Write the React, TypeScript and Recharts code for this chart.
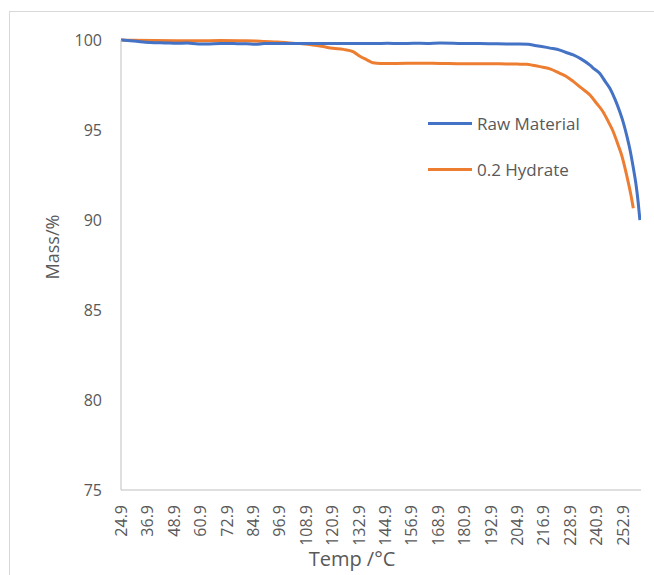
import React from "react";
import { LineChart, Line, XAxis, YAxis, Legend } from "recharts";

// tick labels
const tempTicks = [
  24.9, 36.9, 48.9, 60.9, 72.9, 84.9, 96.9, 108.9, 120.9, 132.9, 144.9, 156.9,
  168.9, 180.9, 192.9, 204.9, 216.9, 228.9, 240.9, 252.9,
];
const massTicks = [75, 80, 85, 90, 95, 100];
const seriesNames = ["Raw Material", "0.2 Hydrate"];

// Raw Material
const rawTemp = [
  24.9, 28, 32, 36, 40, 45, 50, 55, 60, 64, 70, 76, 82, 86, 90, 96, 102, 110,
  120, 130, 140, 146, 152, 158, 164, 170, 176, 182, 188, 194, 200, 206, 210,
  213, 215.4, 220, 224.4, 227, 230.5, 234, 238.1, 240, 242.5, 245, 247.2,
  249.5, 251.7, 253.3, 254.8, 256.3, 257.8, 259, 260, 260.8,
];
const rawMass = [
  100, 99.97, 99.93, 99.88, 99.85, 99.84, 99.82, 99.83, 99.78, 99.78, 99.81,
  99.8, 99.79, 99.76, 99.8, 99.81, 99.8, 99.8, 99.8, 99.8, 99.8, 99.82, 99.8,
  99.82, 99.81, 99.83, 99.82, 99.8, 99.8, 99.79, 99.78, 99.78, 99.76, 99.7,
  99.65, 99.55, 99.44, 99.32, 99.17, 98.95, 98.6, 98.4, 98.15, 97.7, 97.3,
  96.7, 96.0, 95.4, 94.7, 93.9, 92.9, 92.0, 91.0, 90.0,
];

// 0.2 Hydrate
const hydrateTemp = [
  24.9, 30, 40, 50, 60, 70, 80, 86, 90, 96, 103, 106.3, 112, 116, 121.3, 126,
  130.4, 133.5, 136.7, 139.4, 143, 150, 160, 170, 180, 190, 200, 205, 209.4,
  212, 215.4, 219.9, 224.4, 227, 230.5, 234, 238.1, 241, 244.1, 246.5, 248.7,
  250.5, 252.5, 254, 255.5, 256.7, 257.8,
];
const hydrateMass = [
  100, 99.98, 99.97, 99.96, 99.96, 99.97, 99.96, 99.95, 99.92, 99.89, 99.82,
  99.8, 99.72, 99.65, 99.54, 99.48, 99.35, 99.1, 98.9, 98.74, 98.7, 98.7,
  98.71, 98.7, 98.68, 98.68, 98.67, 98.66, 98.65, 98.6, 98.52, 98.4, 98.15,
  98.0, 97.7, 97.35, 96.94, 96.5, 96.0, 95.45, 94.9, 94.3, 93.6, 92.9, 92.1,
  91.4, 90.65,
];

const rawData = rawTemp.map((t, i) => ({ temp: t, mass: rawMass[i] }));
const hydrateData = hydrateTemp.map((t, i) => ({ temp: t, mass: hydrateMass[i] }));

const FONT = "'Open Sans', sans-serif";
const TEXT = "#595959";
const AXIS = "#bfbfbf";

const XTick = ({ x, y, payload }: any) => (
  <text
    x={x}
    y={y}
    transform={`rotate(-90, ${x}, ${y})`}
    textAnchor="end"
    dominantBaseline="central"
    fill={TEXT}
    fontSize={16}
    fontFamily={FONT}
  >
    {Number(payload.value).toFixed(1)}
  </text>
);

const LegendBox = ({ payload }: any) => {
  const items = [...(payload || [])].sort(
    (a: any, b: any) => seriesNames.indexOf(a.value) - seriesNames.indexOf(b.value)
  );
  return (
    <div style={{ fontFamily: FONT, fontSize: 17, color: TEXT }}>
      {items.map((entry: any) => (
        <div
          key={entry.value}
          style={{ display: "flex", alignItems: "center", height: 46 }}
        >
          <span
            style={{
              display: "inline-block",
              width: 44,
              height: 3,
              background: entry.color,
              marginRight: 5,
            }}
          />
          <span>{entry.value}</span>
        </div>
      ))}
    </div>
  );
};

export default function App() {
  return (
    <div
      style={{
        position: "fixed",
        left: 9,
        top: 11,
        width: 645,
        height: 564,
        borderTop: "1px solid #d9d9d9",
        borderLeft: "1px solid #d9d9d9",
        background: "#fff",
      }}
    >
      <LineChart
        width={644}
        height={563}
        margin={{ top: 28, right: 13, left: 0, bottom: 0 }}
      >
        <XAxis
          dataKey="temp"
          type="number"
          domain={[24.9, 261.3]}
          ticks={tempTicks}
          allowDataOverflow
          tick={<XTick />}
          tickLine={false}
          tickSize={0}
          tickMargin={15}
          height={85}
          stroke={AXIS}
          interval={0}
          label={() => (
            <text
              x={342}
              y={546}
              textAnchor="middle"
              dominantBaseline="central"
              fill={TEXT}
              fontSize={20}
              fontFamily={FONT}
            >
              Temp /°C
            </text>
          )}
        />
        <YAxis
          type="number"
          domain={[75, 100]}
          ticks={massTicks}
          width={111}
          tickLine={false}
          tickSize={0}
          tickMargin={19}
          stroke={AXIS}
          tick={{ fill: TEXT, fontSize: 16, fontFamily: FONT }}
          label={() => (
            <text
              x={42}
              y={235}
              transform="rotate(-90, 42, 235)"
              textAnchor="middle"
              dominantBaseline="central"
              fill={TEXT}
              fontSize={18}
              fontFamily={FONT}
            >
              Mass/%
            </text>
          )}
        />
        <Legend
          layout="vertical"
          align="center"
          verticalAlign="middle"
          wrapperStyle={{ left: 418, top: 88, width: 220 }}
          content={<LegendBox />}
        />
        <Line
          data={hydrateData}
          dataKey="mass"
          name="0.2 Hydrate"
          type="monotone"
          stroke="#ED7D31"
          strokeWidth={3}
          dot={false}
          isAnimationActive={false}
        />
        <Line
          data={rawData}
          dataKey="mass"
          name="Raw Material"
          type="monotone"
          stroke="#4472C4"
          strokeWidth={3}
          dot={false}
          isAnimationActive={false}
        />
      </LineChart>
    </div>
  );
}
